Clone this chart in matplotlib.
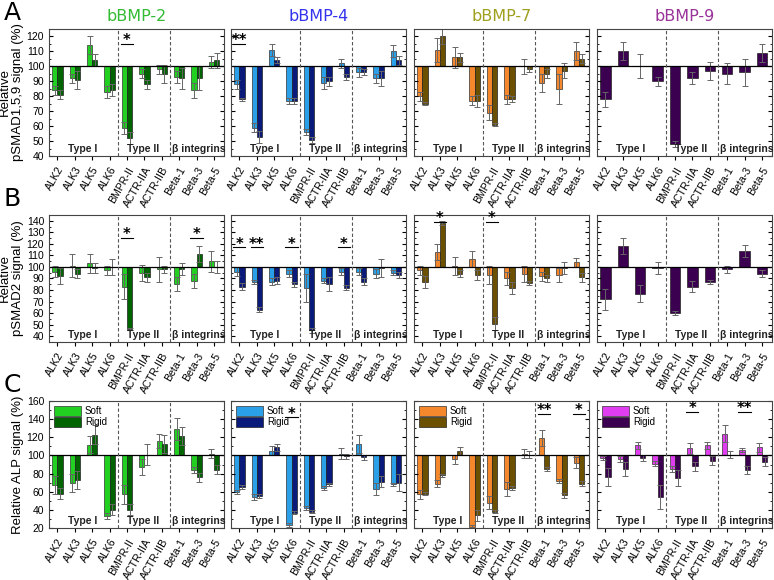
import matplotlib
matplotlib.use("Agg")
import matplotlib.pyplot as plt
from matplotlib.ticker import MultipleLocator
import numpy as np

plt.rcParams['font.family'] = ['Liberation Sans', 'DejaVu Sans']

receptors = ["ALK2", "ALK3", "ALK5", "ALK6", "BMPR-II", "ACTR-IIA",
             "ACTR-IIB", "Beta-1", "Beta-3", "Beta-5"]
groups = ["Type I", "Type II", "β integrins"]
group_x = [1.45, 4.95, 8.1]
bmps = ["bBMP-2", "bBMP-4", "bBMP-7", "bBMP-9"]
title_colors = ["#33bb33", "#3333ee", "#a0a020", "#993399"]
soft_colors = ["#22d022", "#2aa0e8", "#f5872d", "#e03cf0"]
rigid_colors = ["#006400", "#0a1a7a", "#6b5000", "#3c0050"]

# row A: pSMAD1,5,9
a_bmp2_soft = [84, 92, 114, 83, 59, 95, 98, 93, 84, 103]
a_bmp2_soft_err = [3, 3, 6, 4, 4, 3, 3, 4, 5, 4]
a_bmp2_rigid = [81, 91, 104, 84, 52, 88, 95, 92, 92, 104]
a_bmp2_rigid_err = [3, 6, 4, 4, 4, 3, 6, 7, 8, 5]
a_bmp4_soft = [88, 59, 111, 77, 56, 89, 102, 96, 92, 110]
a_bmp4_soft_err = [3, 3, 4, 2, 2, 4, 3, 3, 3, 4]
a_bmp4_rigid = [78, 53, 104, 77, 51, 90, 93, 96, 92, 104]
a_bmp4_rigid_err = [1, 4, 2, 2, 2, 3, 2, 2, 5, 3]
a_bmp7_soft = [80, 111, 106, 77, 69, 78, 100, 89, 85, 110]
a_bmp7_soft_err = [3, 8, 7, 3, 5, 3, 5, 6, 10, 6]
a_bmp7_rigid = [75, 120, 106, 77, 61, 78, 98, 95, 97, 105]
a_bmp7_rigid_err = [1, 5, 3, 4, 1, 2, 2, 3, 5, 3]
a_bmp9 = [78, 110, 100, 90, 48, 92, 97, 95, 96, 109]
a_bmp9_err = [5, 6, 8, 3, 2, 4, 6, 7, 9, 6]

# row B: pSMAD2
b_bmp2_soft = [96, 101, 103, 97, 83, 95, 98, 85, 88, 105]
b_bmp2_soft_err = [5, 10, 8, 4, 11, 7, 11, 6, 6, 9]
b_bmp2_rigid = [92, 94, 99, 100, 46, 91, 98, 98, 111, 100]
b_bmp2_rigid_err = [7, 4, 4, 7, 1, 4, 3, 5, 7, 5]
b_bmp4_soft = [96, 87, 87, 94, 82, 88, 96, 96, 94, 95]
b_bmp4_soft_err = [4, 2, 3, 3, 12, 2, 3, 3, 4, 2]
b_bmp4_rigid = [83, 63, 88, 85, 45, 85, 82, 87, 99, 93]
b_bmp4_rigid_err = [3, 2, 3, 2, 2, 6, 2, 3, 8, 3]
b_bmp7_soft = [97, 113, 101, 107, 93, 90, 94, 92, 93, 104]
b_bmp7_soft_err = [4, 7, 8, 7, 8, 6, 7, 4, 6, 4]
b_bmp7_rigid = [87, 138, 94, 93, 51, 82, 86, 90, 99, 91]
b_bmp7_rigid_err = [5, 2, 3, 4, 6, 5, 2, 3, 5, 4]
b_bmp9 = [72, 118, 77, 99, 60, 83, 87, 98, 114, 94]
b_bmp9_err = [9, 7, 7, 5, 2, 5, 2, 3, 5, 3]

# row C: ALP
c_bmp2_soft = [67, 70, 112, 33, 57, 87, 116, 129, 84, 102]
c_bmp2_soft_err = [10, 10, 9, 3, 10, 9, 8, 12, 3, 5]
c_bmp2_rigid = [58, 73, 123, 40, 40, 101, 113, 121, 76, 84]
c_bmp2_rigid_err = [6, 10, 10, 6, 6, 12, 10, 10, 5, 5]
c_bmp4_soft = [60, 54, 105, 23, 42, 64, 102, 113, 63, 68]
c_bmp4_soft_err = [2, 3, 5, 2, 2, 2, 6, 10, 7, 2]
c_bmp4_rigid = [65, 55, 109, 37, 38, 68, 99, 98, 71, 70]
c_bmp4_rigid_err = [2, 2, 4, 2, 2, 2, 3, 3, 6, 9]
c_bmp7_soft = [57, 69, 96, 21, 48, 63, 102, 119, 72, 92]
c_bmp7_soft_err = [5, 4, 5, 2, 7, 8, 5, 9, 2, 6]
c_bmp7_rigid = [58, 78, 105, 34, 38, 64, 101, 85, 56, 69]
c_bmp7_rigid_err = [2, 2, 4, 6, 2, 2, 4, 2, 3, 3]
c_bmp9_soft = [97, 96, 111, 91, 85, 108, 111, 124, 106, 109]
c_bmp9_soft_err = [2, 3, 4, 3, 3, 6, 4, 9, 2, 5]
c_bmp9_rigid = [76, 85, 97, 54, 75, 88, 94, 101, 84, 93]
c_bmp9_rigid_err = [10, 8, 3, 13, 9, 5, 5, 4, 4, 5]

# significance marks: (row, column, receptor index, line height, text)
marks = [
    (0, 0, 4, 115, "*"), (0, 1, 0, 115, "**"),
    (1, 0, 4, 125, "*"), (1, 0, 8, 125, "*"),
    (1, 1, 0, 117, "*"), (1, 1, 1, 117, "**"), (1, 1, 3, 117, "*"),
    (1, 1, 6, 117, "*"), (1, 2, 1, 139, "*"), (1, 2, 4, 139, "*"),
    (2, 1, 3, 142, "*"), (2, 2, 7, 146, "**"), (2, 2, 9, 146, "*"),
    (2, 3, 5, 148, "*"), (2, 3, 8, 148, "**"),
]

rows = [
    [(a_bmp2_soft, a_bmp2_soft_err, a_bmp2_rigid, a_bmp2_rigid_err),
     (a_bmp4_soft, a_bmp4_soft_err, a_bmp4_rigid, a_bmp4_rigid_err),
     (a_bmp7_soft, a_bmp7_soft_err, a_bmp7_rigid, a_bmp7_rigid_err),
     (None, None, a_bmp9, a_bmp9_err)],
    [(b_bmp2_soft, b_bmp2_soft_err, b_bmp2_rigid, b_bmp2_rigid_err),
     (b_bmp4_soft, b_bmp4_soft_err, b_bmp4_rigid, b_bmp4_rigid_err),
     (b_bmp7_soft, b_bmp7_soft_err, b_bmp7_rigid, b_bmp7_rigid_err),
     (None, None, b_bmp9, b_bmp9_err)],
    [(c_bmp2_soft, c_bmp2_soft_err, c_bmp2_rigid, c_bmp2_rigid_err),
     (c_bmp4_soft, c_bmp4_soft_err, c_bmp4_rigid, c_bmp4_rigid_err),
     (c_bmp7_soft, c_bmp7_soft_err, c_bmp7_rigid, c_bmp7_rigid_err),
     (c_bmp9_soft, c_bmp9_soft_err, c_bmp9_rigid, c_bmp9_rigid_err)],
]
ylims = [(40, 125), (35, 145), (20, 160)]
major = [10, 10, 20]
minor = [5, 5, 10]
ylabels = ["Relative\npSMAD1,5,9 signal (%)", "Relative\npSMAD2 signal (%)",
           "Relative ALP signal (%)"]
letters = ["A", "B", "C"]

W, H = 774, 580
fig = plt.figure(figsize=(W / 100, H / 100), dpi=100)
col_left = [49, 231, 414, 597]
col_w = 175
row_top = [29, 215, 401]
row_h = 127

x = np.arange(len(receptors))
err_kw = dict(ecolor="#666666", elinewidth=0.7, capsize=2, capthick=0.7)
axes = {}
for r in range(3):
    for c in range(4):
        ax = fig.add_axes([col_left[c] / W, 1 - (row_top[r] + row_h) / H,
                           col_w / W, row_h / H])
        axes[(r, c)] = ax
        soft, soft_err, rigid, rigid_err = rows[r][c]
        if soft is None:
            ax.bar(x, np.array(rigid) - 100, bottom=100, width=0.6,
                   color=rigid_colors[c], edgecolor="#222222", linewidth=0.5,
                   yerr=rigid_err, error_kw=err_kw)
        else:
            ax.bar(x - 0.15, np.array(soft) - 100, bottom=100, width=0.3,
                   color=soft_colors[c], edgecolor="#333333", linewidth=0.5,
                   yerr=soft_err, error_kw=err_kw, label="Soft")
            ax.bar(x + 0.15, np.array(rigid) - 100, bottom=100, width=0.3,
                   color=rigid_colors[c], edgecolor="#222222", linewidth=0.5,
                   yerr=rigid_err, error_kw=err_kw, label="Rigid")
        ax.axhline(100, color="black", lw=0.9)
        for xv in (3.5, 6.5):
            ax.axvline(xv, color="#555555", lw=0.8, ls=(0, (3, 2)))
        ax.set_xlim(-0.48, 9.58)
        ax.set_ylim(*ylims[r])
        ax.yaxis.set_major_locator(MultipleLocator(major[r]))
        ax.yaxis.set_minor_locator(MultipleLocator(minor[r]))
        ax.tick_params(axis="y", which="both", direction="in", right=True,
                       labelsize=7.5, length=3)
        ax.tick_params(axis="y", which="minor", length=1.5)
        ax.tick_params(axis="x", direction="out", length=3, labelsize=7.6)
        ax.set_xticks(x)
        ax.set_xticklabels(receptors, rotation=60, ha="right",
                           rotation_mode="anchor")
        for sp in ax.spines.values():
            sp.set_color("#444444")
            sp.set_linewidth(0.8)
        if c > 0:
            ax.set_yticklabels([])
        else:
            ax.set_ylabel(ylabels[r], fontsize=9.5, labelpad=2,
                          linespacing=1.1)
        for g, gx in zip(groups, group_x):
            ax.text(gx, 0.015, g, transform=ax.get_xaxis_transform(),
                    ha="center", va="bottom", fontsize=7.5, fontweight="bold",
                    color="#222222")
        if r == 0:
            ax.set_title(bmps[c], color=title_colors[c], fontsize=11.5,
                         family="DejaVu Sans", pad=6)
        if r == 2:
            ax.legend(loc="upper left", frameon=False, fontsize=7,
                      handlelength=2.8, handleheight=1.2, labelspacing=0.1,
                      handletextpad=0.4, borderaxespad=0.1)

for r, c, i, y, s in marks:
    ax = axes[(r, c)]
    ax.plot([i - 0.35, i + 0.35], [y, y], color="black", lw=0.8)
    ax.annotate(s, (i, y), xytext=(0, -1), textcoords="offset points",
                ha="center", va="baseline", fontsize=10.5, fontweight="bold",
                family="DejaVu Sans")

for r in range(3):
    fig.text(4 / W, 1 - (row_top[r] - 16) / H, letters[r], fontsize=18,
             family="DejaVu Sans", va="center", ha="left")

fig.savefig("out.png", dpi=100)
